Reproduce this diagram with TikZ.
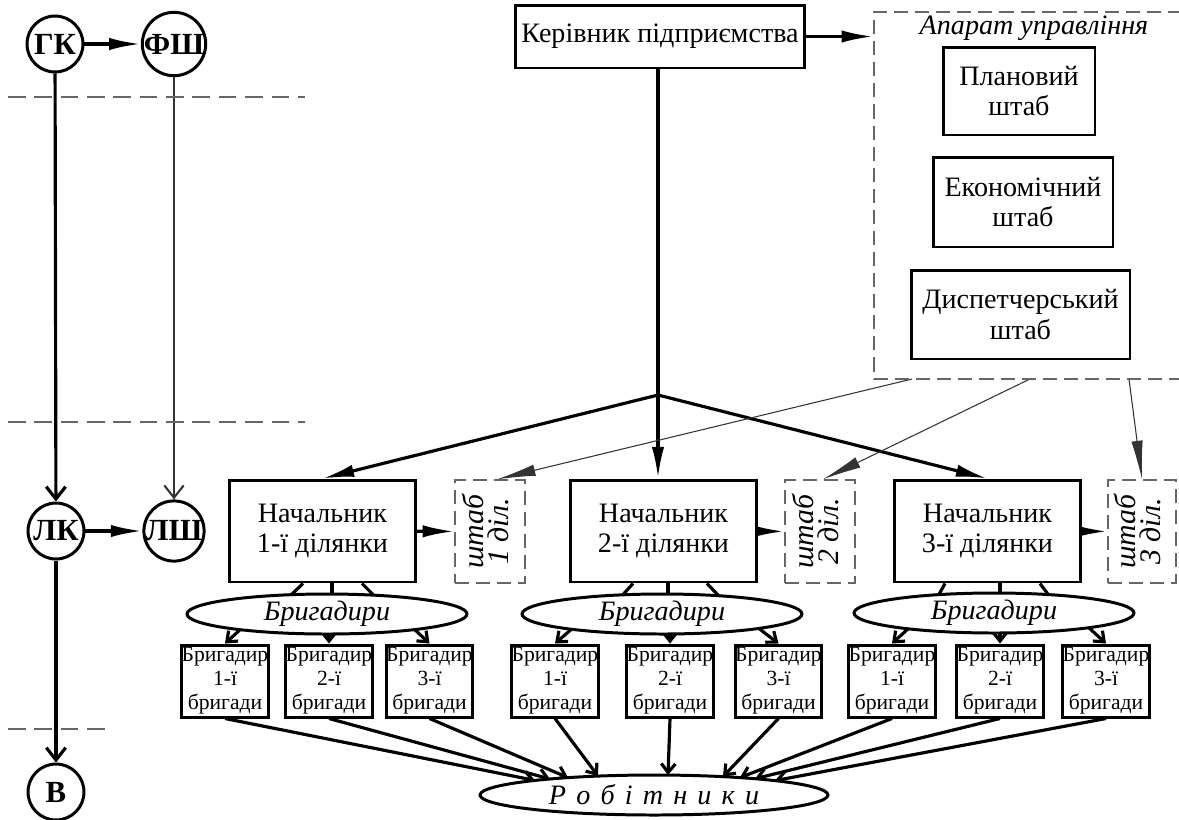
\documentclass[tikz,border=0pt]{standalone}
\usepackage{fontspec}
\usepackage{graphicx}
\setmainfont{Liberation Serif}
\usetikzlibrary{arrows.meta,shapes.geometric,calc,backgrounds}
\begin{document}
\begin{tikzpicture}[x=0.02cm,y=-0.02cm,
  every node/.style={inner sep=0pt},
  thk/.style={line width=1.8pt},
  thn/.style={line width=0.6pt, draw=black!80},
  fa/.style={-{Latex[length=18pt,width=7pt]}},
  fathin/.style={-{Latex[length=22pt,width=6.5pt]}},
  va/.style={-{Straight Barb[length=7pt,width=11pt]}},
  vathin/.style={-{Straight Barb[length=7pt,width=11pt,line width=1.2pt]}},
  vsmall/.style={-{Straight Barb[length=5pt,width=8pt]}},
  box/.style={draw, line width=1.7pt, fill=white, align=center,
    font=\fontsize{16}{17.5}\selectfont},
  brig/.style={box, minimum width=1.72cm, minimum height=1.44cm,
    font=\fontsize{12.3}{13.6}\selectfont},
  chief/.style={box, minimum width=3.72cm, minimum height=2.04cm},
  staff/.style={draw=black!60, dash pattern=on 8pt off 4pt, line width=0.8pt,
    fill=white, minimum height=2.06cm, align=center,
    font=\fontsize{17}{17}\selectfont\itshape},
  oval/.style={ellipse, draw, line width=1.7pt, fill=white,
    minimum width=5.6cm, minimum height=0.8cm,
    font=\fontsize{16}{18}\selectfont\itshape},
  circ/.style={circle, draw, line width=1.7pt, fill=white,
    minimum size=1.12cm, font=\fontsize{17.5}{18}\selectfont\bfseries},
  sepline/.style={draw=black!60, line width=0.7pt, dash pattern=on 10pt off 5pt},
]
\useasboundingbox (0,0) rectangle (1179,819);

% ---- left-hand scheme of circles ----
\node[circ] (gk)  at (55,44)  {ГК};
\node[circ] (fsh) at (174,44) {ФШ};
\node[circ] (lk)  at (56,531) {ЛК};
\node[circ] (lsh) at (174,531) {ЛШ};
\node[circ] (v)   at (56,792) {В};

\draw[sepline] (8,97) -- (305,97);
\draw[sepline] (8,422) -- (305,422);
\draw[sepline] (8,729) -- (108,729);

% ---- top management ----
\node[box, minimum width=5.8cm, minimum height=1.26cm] (head) at (660,36.5)
  {Керівник підприємства};

\node[draw=black!60, dash pattern=on 8pt off 4pt, line width=0.8pt,
  minimum width=6.16cm, minimum height=7.34cm] (ap) at (1028,195.5) {};
\node[font=\fontsize{16}{18}\selectfont\itshape] (aptitle) at (1034,28)
  {Апарат управління};
\node[box, minimum width=3.04cm, minimum height=1.76cm] (plan) at (1019,91)
  {Плановий\\штаб};
\node[box, minimum width=3.6cm, minimum height=1.8cm] (econ) at (1023,202)
  {Економічний\\штаб};
\node[box, minimum width=4.38cm, minimum height=1.78cm] (disp) at (1020.5,314.5)
  {Диспетчерський\\штаб};

% ---- site chiefs and site staffs ----
\node[chief] (n1) at (322.5,531) {Начальник\\1-ї ділянки};
\node[chief] (n2) at (663.5,531) {Начальник\\2-ї ділянки};
\node[chief] (n3) at (987.5,531) {Начальник\\3-ї ділянки};

\node[staff, minimum width=1.4cm]  (s1) at (490,531.5)
  {\rotatebox{90}{\begin{tabular}{@{}c@{}}штаб\\[-3pt]1 діл.\end{tabular}}};
\node[staff, minimum width=1.4cm]  (s2) at (820,531.5)
  {\rotatebox{90}{\begin{tabular}{@{}c@{}}штаб\\[-3pt]2 діл.\end{tabular}}};
\node[staff, minimum width=1.36cm] (s3) at (1142,531.5)
  {\rotatebox{90}{\begin{tabular}{@{}c@{}}штаб\\[-3pt]3 діл.\end{tabular}}};

% ---- foremen ----
\node[oval] (e1) at (327,614) {Бригадири};
\node[oval] (e2) at (662,614) {Бригадири};
\node[oval] (e3) at (994,613) {Бригадири};

\node[brig] (b11) at (225,681)   {Бригадир\\1-ї\\бригади};
\node[brig] (b12) at (329,681)   {Бригадир\\2-ї\\бригади};
\node[brig] (b13) at (429.5,681) {Бригадир\\3-ї\\бригади};
\node[brig] (b21) at (555,681)   {Бригадир\\1-ї\\бригади};
\node[brig] (b22) at (670,681)   {Бригадир\\2-ї\\бригади};
\node[brig] (b23) at (778.5,681) {Бригадир\\3-ї\\бригади};
\node[brig] (b31) at (892,681)   {Бригадир\\1-ї\\бригади};
\node[brig] (b32) at (1000,681)  {Бригадир\\2-ї\\бригади};
\node[brig] (b33) at (1106,681)  {Бригадир\\3-ї\\бригади};

% ---- workers ----
\node[oval, minimum width=6.96cm] (rob) at (654,795)
  {\spaceskip=5.8pt Р о б і т н и к и};

% free ends of connectors
\coordinate (j)  at (658,395);
\coordinate (a1) at (912,379);
\coordinate (a2) at (1030,379);
\coordinate (a3) at (1129,379);
\coordinate (r11) at (535,780.4);
\coordinate (r12) at (550,779);
\coordinate (r13) at (568,777.6);
\coordinate (r21) at (598,776);
\coordinate (r22) at (668,775);
\coordinate (r23) at (723,776.6);
\coordinate (r31) at (740,777.6);
\coordinate (r32) at (755,778.7);
\coordinate (r33) at (775,780.6);

\begin{scope}[on background layer]
  % left scheme
  \draw[thk, fa] (gk) -- (fsh);
  \draw[thk, fa] (lk) -- (lsh);
  \draw[thk, va] (gk) -- (lk);
  \draw[thn, vathin] (fsh) -- (lsh);
  \draw[thk, va] (lk) -- (v);

  % management
  \draw[thk, fa] (head.east) -- (head.east -| ap.west);
  \draw[thk] (head.south -| j) -- (j);
  \draw[thk, fa] (j) -- (n1.north);
  \draw[thk, fa] (j) -- (j |- n2.north);
  \draw[thk, fa] (j) -- (n3.north);

  \draw[thn, fathin] (a1) -- ($(s1.north)+(7,0)$);
  \draw[thn, fathin] (a2) -- ($(s2.north)+(3,0)$);
  \draw[thn, fathin] (a3) -- (s3.north);

  \draw[thk, fa] (n1) -- (s1);
  \draw[thk, fa] (n2) -- (s2);
  \draw[thk, fa] (n3) -- (s3);

  % chiefs to foremen
  \draw[thk] ($(n1.south)+(-19.5,0)$) -- ($(n1.south)+(-40.5,20)$);
  \draw[thk] ($(n1.south)+(9.5,0)$)   -- ($(n1.south)+(9.5,20)$);
  \draw[thk] ($(n1.south)+(39.5,0)$)  -- ($(n1.south)+(59.5,20)$);
  \draw[thk] ($(n2.south)+(-30.5,0)$) -- ($(n2.south)+(-48.5,20)$);
  \draw[thk] ($(n2.south)+(4.5,0)$)   -- ($(n2.south)+(4.5,20)$);
  \draw[thk] ($(n2.south)+(43.5,0)$)  -- ($(n2.south)+(62.5,20)$);
  \draw[thk] ($(n3.south)+(-42.5,0)$) -- ($(n3.south)+(-53.5,20)$);
  \draw[thk] ($(n3.south)+(12.5,0)$)  -- ($(n3.south)+(12.5,20)$);
  \draw[thk] ($(n3.south)+(52.5,0)$)  -- ($(n3.south)+(67.5,20)$);

  % foremen to brigades
  \draw[thk, vsmall] ($(e1.center)+(-84,13)$) -- (b11.north);
  \draw[thk, vsmall] ($(e1.center)+(2,8)$)    -- (b12.north);
  \draw[thk, vsmall] ($(e1.center)+(85,13)$)  -- (b13.north);
  \draw[thk, vsmall] ($(e2.center)+(-88,13)$) -- (b21.north);
  \draw[thk, vsmall] ($(e2.center)+(8,8)$)    -- (b22.north);
  \draw[thk, vsmall] ($(e2.center)+(95,13)$)  -- (b23.north);
  \draw[thk, vsmall] ($(e3.center)+(-84,14)$) -- (b31.north);
  \draw[thk, vsmall] ($(e3.center)+(6,8)$)    -- (b32.north);
  \draw[thk, vsmall] ($(e3.center)+(93,13)$)  -- (b33.north);

  % brigades to workers
  \draw[thk, vsmall] (b11.south) -- (r11);
  \draw[thk, vsmall] (b12.south) -- (r12);
  \draw[thk, vsmall] (b13.south) -- (r13);
  \draw[thk, vsmall] (b21.south) -- (r21);
  \draw[thk, vsmall] (b22.south) -- (r22);
  \draw[thk, vsmall] (b23.south) -- (r23);
  \draw[thk, vsmall] (b31.south) -- (r31);
  \draw[thk, vsmall] (b32.south) -- (r32);
  \draw[thk, vsmall] (b33.south) -- (r33);
\end{scope}
\end{tikzpicture}
\end{document}
